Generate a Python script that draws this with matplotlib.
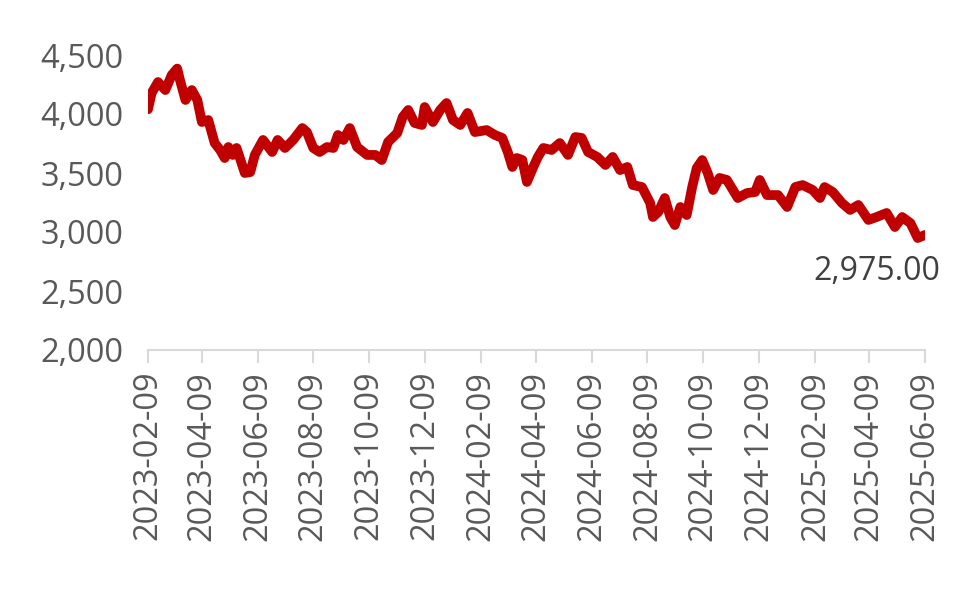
import matplotlib
matplotlib.use("Agg")
import matplotlib.pyplot as plt
from matplotlib.ticker import FuncFormatter
import pandas as pd

dates = [
    "2023-02-09", "2023-02-13", "2023-02-20", "2023-02-28", "2023-03-07", "2023-03-13",
    "2023-03-16", "2023-03-22", "2023-03-29", "2023-04-04", "2023-04-09", "2023-04-16",
    "2023-04-23", "2023-04-29", "2023-05-04", "2023-05-08", "2023-05-13", "2023-05-17",
    "2023-05-26", "2023-06-01", "2023-06-06", "2023-06-15", "2023-06-25", "2023-07-01",
    "2023-07-09", "2023-07-18", "2023-07-28", "2023-08-02", "2023-08-09", "2023-08-16",
    "2023-08-24", "2023-08-31", "2023-09-05", "2023-09-11", "2023-09-18", "2023-09-26",
    "2023-10-07", "2023-10-16", "2023-10-23", "2023-10-30", "2023-11-09", "2023-11-15",
    "2023-11-21", "2023-11-28", "2023-12-06", "2023-12-09", "2023-12-18", "2023-12-26",
    "2024-01-02", "2024-01-09", "2024-01-17", "2024-01-25", "2024-02-02", "2024-02-15",
    "2024-02-24", "2024-03-03", "2024-03-09", "2024-03-14", "2024-03-19", "2024-03-25",
    "2024-03-30", "2024-04-06", "2024-04-11", "2024-04-17", "2024-04-26", "2024-05-05",
    "2024-05-14", "2024-05-22", "2024-05-29", "2024-06-05", "2024-06-15", "2024-06-24",
    "2024-07-02", "2024-07-10", "2024-07-18", "2024-07-24", "2024-08-03", "2024-08-12",
    "2024-08-15", "2024-08-21", "2024-08-28", "2024-09-03", "2024-09-08", "2024-09-14",
    "2024-09-21", "2024-09-27", "2024-10-02", "2024-10-08", "2024-10-14", "2024-10-20",
    "2024-10-27", "2024-11-04", "2024-11-16", "2024-11-26", "2024-12-05", "2024-12-10",
    "2024-12-18", "2024-12-30", "2025-01-09", "2025-01-18", "2025-01-26", "2025-02-06",
    "2025-02-14", "2025-02-19", "2025-02-28", "2025-03-10", "2025-03-19", "2025-03-28",
    "2025-04-08", "2025-04-17", "2025-04-28", "2025-05-07", "2025-05-15", "2025-05-24",
    "2025-06-01", "2025-06-09",
]
values = [
    4040, 4178, 4271, 4203, 4331, 4385,
    4288, 4119, 4203, 4119, 3932, 3949,
    3754, 3695, 3627, 3720, 3653, 3712,
    3500, 3508, 3653, 3780, 3678, 3780,
    3712, 3780, 3881, 3847, 3712, 3678,
    3720, 3712, 3822, 3780, 3881, 3720,
    3653, 3653, 3610, 3763, 3839, 3975,
    4034, 3924, 3907, 4059, 3932, 4034,
    4093, 3949, 3907, 4009, 3847, 3864,
    3822, 3797, 3678, 3551, 3627, 3610,
    3424, 3551, 3636, 3712, 3695, 3754,
    3653, 3805, 3797, 3678, 3636, 3568,
    3636, 3525, 3551, 3398, 3381, 3246,
    3127, 3170, 3288, 3127, 3059, 3212,
    3144, 3381, 3542, 3610, 3500, 3356,
    3458, 3441, 3288, 3330, 3339, 3441,
    3313, 3313, 3212, 3381, 3398, 3356,
    3288, 3381, 3339, 3246, 3187, 3229,
    3102, 3127, 3161, 3042, 3127, 3076,
    2949, 2975,
]
tick_labels = [
    "2023-02-09", "2023-04-09", "2023-06-09", "2023-08-09", "2023-10-09",
    "2023-12-09", "2024-02-09", "2024-04-09", "2024-06-09", "2024-08-09",
    "2024-10-09", "2024-12-09", "2025-02-09", "2025-04-09", "2025-06-09",
]
y_ticks = [2000, 2500, 3000, 3500, 4000, 4500]
last_label = "2,975.00"

plt.rcParams["font.family"] = ["Open Sans", "DejaVu Sans"]

x = pd.to_datetime(dates)
xt = pd.to_datetime(tick_labels)

fig = plt.figure(figsize=(9.8, 5.93), dpi=100)
ax = fig.add_axes([148 / 980, 1 - 350 / 593, (925 - 148) / 980, (350 - 55) / 593])

ax.plot(x, values, color="#C00000", lw=7.0, solid_joinstyle="round",
        solid_capstyle="round")

ax.set_xlim(xt[0], xt[-1])
ax.set_ylim(2000, 4500)
ax.set_yticks(y_ticks)
ax.yaxis.set_major_formatter(FuncFormatter(lambda v, p: f"{int(v):,}"))
ax.set_xticks(xt)
ax.set_xticklabels(tick_labels, rotation=90)

for s in ["top", "right", "left"]:
    ax.spines[s].set_visible(False)
ax.spines["bottom"].set_color("#D9D9D9")
ax.spines["bottom"].set_linewidth(1.5)
ax.tick_params(axis="x", direction="out", length=9, width=1.5, color="#D9D9D9",
               labelsize=23.5, labelcolor="#595959", pad=6)
ax.tick_params(axis="y", length=0, labelsize=23.5, labelcolor="#595959", pad=18)

ax.annotate(last_label, xy=(x[-1], values[-1]), xytext=(11, -26),
            textcoords="offset points", ha="right", va="center",
            fontsize=23, color="#404040", annotation_clip=False)

fig.savefig("out.png", dpi=100, facecolor="white")
